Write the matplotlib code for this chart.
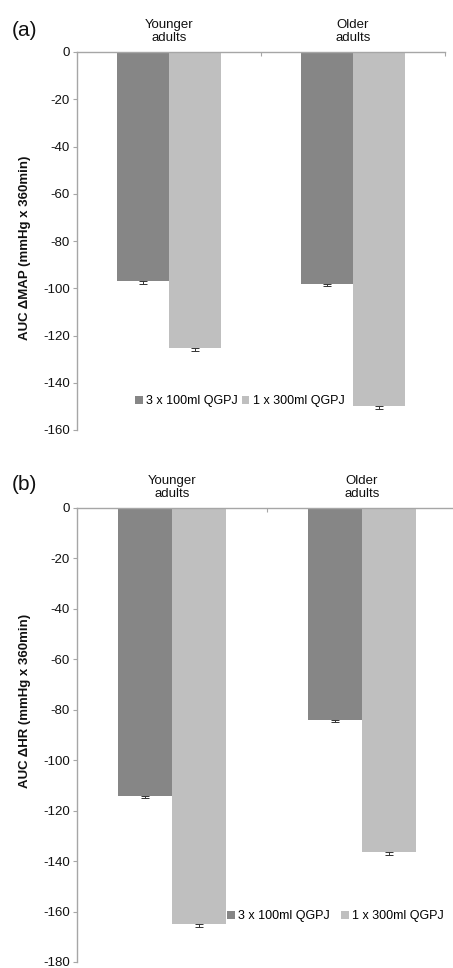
import matplotlib
matplotlib.use("Agg")
import matplotlib.pyplot as plt
import numpy as np

plt.rcParams['font.family'] = ['Liberation Sans', 'DejaVu Sans']

groups = ["Younger\nadults", "Older\nadults"]
series = ["3 x 100ml QGPJ", "1 x 300ml QGPJ"]
map_3x100 = [-97, -98]
map_1x300 = [-125.5, -150]
map_err_3x100 = [1.0, 1.0]
map_err_1x300 = [1.0, 1.0]
hr_3x100 = [-114, -84]
hr_1x300 = [-165, -136.5]
hr_err_3x100 = [1.0, 1.0]
hr_err_1x300 = [1.0, 1.0]
map_yticks = [0, -20, -40, -60, -80, -100, -120, -140, -160]
hr_yticks = [0, -20, -40, -60, -80, -100, -120, -140, -160, -180]

W, H = 453, 968
fig = plt.figure(figsize=(W / 100, H / 100), dpi=100)

dark = "#868686"
light = "#bfbfbf"
axcol = "#a6a6a6"

def make_panel(rect, v1, v2, e1, e2, yticks, ylabel, label, label_y, ylabel_y, leg_anchor, colsp):
    ax = fig.add_axes(rect)
    x = np.arange(len(groups))
    w = 0.285
    ax.bar(x - w / 2, v1, w, color=dark, label=series[0], zorder=2)
    ax.bar(x + w / 2, v2, w, color=light, label=series[1], zorder=2)
    ax.errorbar(x - w / 2, v1, yerr=[e1, [0] * len(e1)], fmt='none', ecolor='#333333',
                elinewidth=0.7, capsize=3, capthick=0.7, zorder=3)
    ax.errorbar(x + w / 2, v2, yerr=[e2, [0] * len(e2)], fmt='none', ecolor='#333333',
                elinewidth=0.7, capsize=3, capthick=0.7, zorder=3)
    ax.set_xlim(-0.5, len(groups) - 0.5)
    ax.set_ylim(min(yticks), 0)
    ax.set_yticks(yticks)
    ax.set_yticklabels([str(t) for t in yticks], fontsize=9.5, color='#111111')
    ax.tick_params(axis='y', length=3, width=0.8, color=axcol, pad=2)
    ax.xaxis.tick_top()
    ax.set_xticks([0.5, 1.5])
    ax.set_xticklabels([])
    ax.tick_params(axis='x', direction='in', length=3, width=0.8, color=axcol)
    for s in ['right', 'bottom']:
        ax.spines[s].set_visible(False)
    for s in ['left', 'top']:
        ax.spines[s].set_color(axcol)
        ax.spines[s].set_linewidth(1.0)
    for i, g in enumerate(groups):
        ax.annotate(g, xy=(x[i], 1), xycoords=('data', 'axes fraction'),
                    xytext=(0, 6), textcoords='offset points',
                    ha='center', va='bottom', fontsize=9.5, color='#111111',
                    linespacing=1.05, annotation_clip=False)
    fig.text(25 / W, ylabel_y, ylabel, rotation=90, ha='center', va='center',
             fontsize=9.5, fontweight='bold', color='#111111')
    fig.text(12 / W, label_y, label, ha='left', va='center', fontsize=15, color='#111111')
    ax.legend(loc='center left', bbox_to_anchor=leg_anchor, bbox_transform=fig.transFigure,
              ncol=2, frameon=False, fontsize=9, handlelength=0.6, handleheight=0.6,
              handletextpad=0.3, columnspacing=colsp, borderaxespad=0, borderpad=0)
    return ax

# panel (a): left 77, right 445, top 52, bottom 430
make_panel([77 / W, 1 - 430 / H, (445 - 77) / W, (430 - 52) / H],
           map_3x100, map_1x300, map_err_3x100, map_err_1x300, map_yticks,
           "AUC \u0394MAP (mmHg x 360min)", "(a)", 1 - 31 / H, 1 - 248 / H,
           (135 / W, 1 - 401 / H), 0.3)

# panel (b): left 77, right 457, top 508, bottom 962
make_panel([77 / W, 1 - 962 / H, (457 - 77) / W, (962 - 508) / H],
           hr_3x100, hr_1x300, hr_err_3x100, hr_err_1x300, hr_yticks,
           "AUC \u0394HR (mmHg x 360min)", "(b)", 1 - 484 / H, 1 - 701 / H,
           (227 / W, 1 - 916 / H), 0.9)

fig.savefig("out.png", dpi=100)
